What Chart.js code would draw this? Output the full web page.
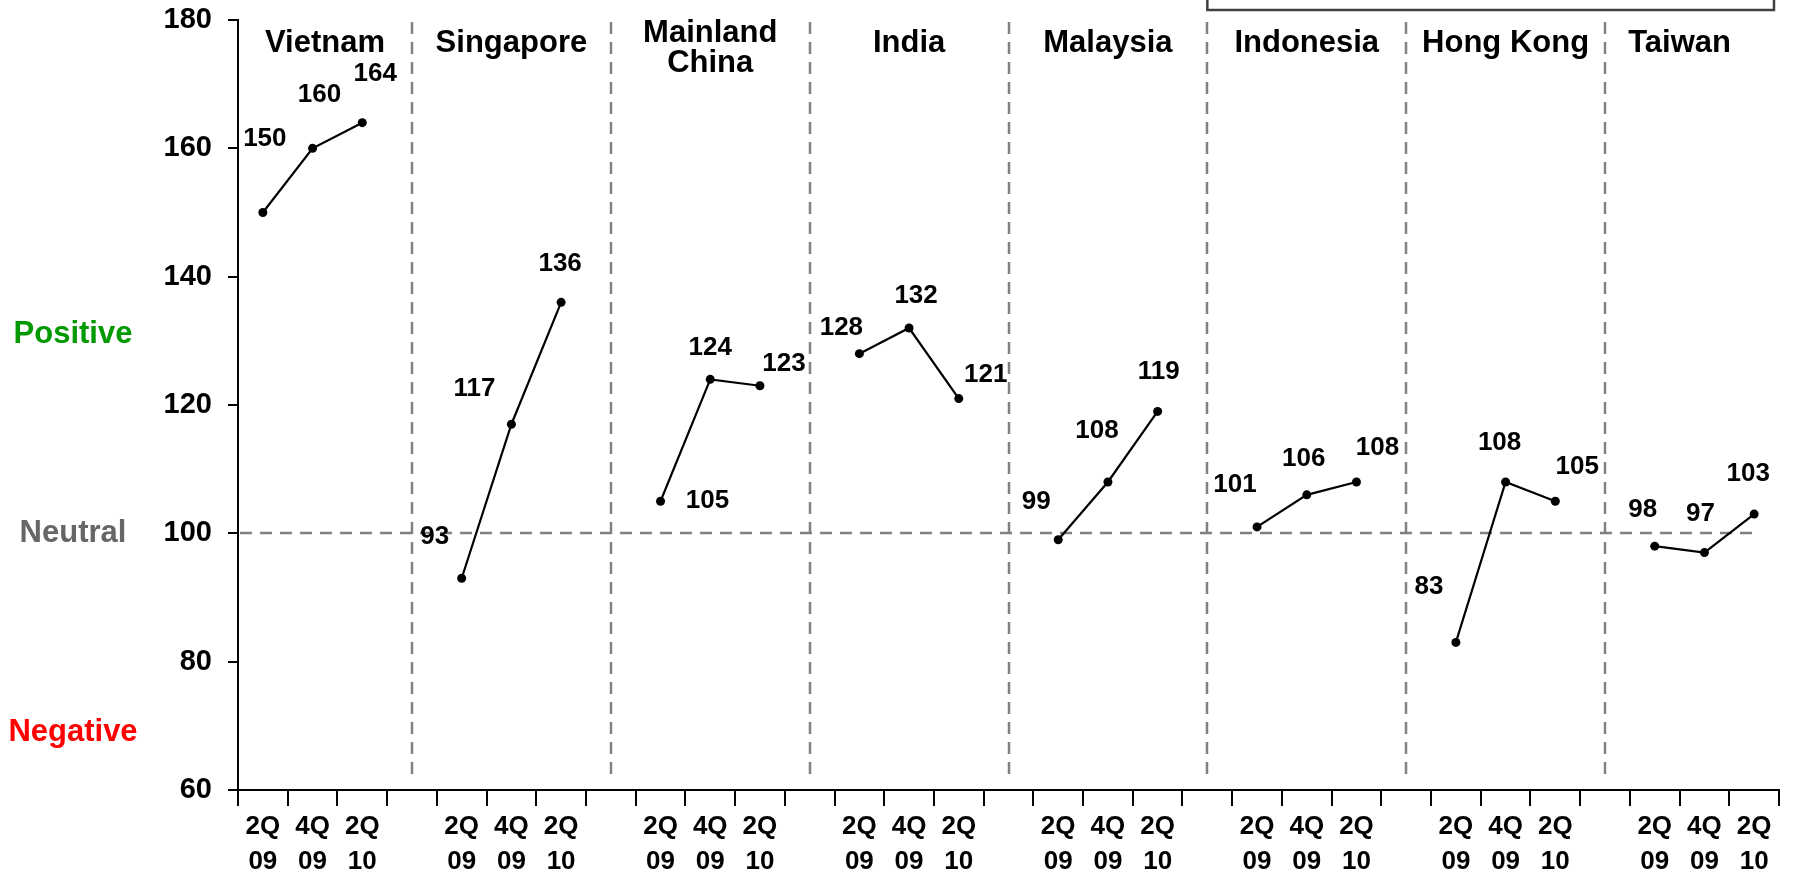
<!DOCTYPE html>
<html>
<head>
<meta charset="utf-8">
<title>Sentiment by market</title>
<script src="https://cdn.jsdelivr.net/npm/chart.js@4.4.1/dist/chart.umd.min.js"></script>
<style>
    html, body { margin: 0; padding: 0; background: #ffffff; }
    canvas { display: block; }
</style>
</head>
<body>
<canvas id="sentimentChart" width="1797" height="875"></canvas>
<script>
// Values
const countries = ['Vietnam', 'Singapore', ['Mainland', 'China'], 'India', 'Malaysia', 'Indonesia', 'Hong Kong', 'Taiwan'];
const periods = [['2Q', '09'], ['4Q', '09'], ['2Q', '10']];

const vietnam = [150, 160, 164];
const singapore = [93, 117, 136];
const mainlandChina = [105, 124, 123];
const india = [128, 132, 121];
const malaysia = [99, 108, 119];
const indonesia = [101, 106, 108];
const hongKong = [83, 108, 105];
const taiwan = [98, 97, 103];

const yMin = 60;
const yMax = 180;
const yStep = 20;
const neutralLevel = 100;
const sentimentBands = ['Positive', 'Neutral', 'Negative'];
const sentimentLevels = [131, 100, 69];

const FONT = "'Liberation Sans', Arial, Helvetica, sans-serif";
const series = [vietnam, singapore, mainlandChina, india, malaysia, indonesia, hongKong, taiwan];

// one empty slot between countries
const labels = [];
const gapSlots = [];
countries.forEach((c, i) => {
    if (i > 0) {
        gapSlots.push(labels.length);
        labels.push('');
    }
    periods.forEach((p) => labels.push(p));
});

const datasets = series.map((values, i) => {
    const data = new Array(labels.length).fill(null);
    values.forEach((v, j) => { data[i * (periods.length + 1) + j] = v; });
    return {
        label: Array.isArray(countries[i]) ? countries[i].join(' ') : countries[i],
        data: data,
        borderColor: '#000000',
        backgroundColor: '#000000',
        borderWidth: 2.2,
        pointRadius: 4.5,
        pointHoverRadius: 4.5,
        pointBackgroundColor: '#000000',
        pointBorderWidth: 0,
        tension: 0,
        spanGaps: false,
    };
});

// where each value label sits relative to its point (dx, dy in px)
const labelNudge = [
    [[2, -74], [7, -54], [13, -49]],
    [[-27, -41], [-37, -35], [-1, -39]],
    [[47, 0], [0, -32], [24, -22]],
    [[-18, -26], [7, -32], [27, -24]],
    [[-22, -38], [-11, -51], [1, -40]],
    [[-22, -42], [-3, -36], [21, -34]],
    [[-27, -56], [-6, -39], [22, -34]],
    [[-12, -36], [-4, -39], [-6, -40]],
];
const bandColors = ['#009900', '#666666', '#ff0000'];

const guidesPlugin = {
    id: 'guides',
    beforeDatasetsDraw(chart) {
        const { ctx, chartArea, scales } = chart;
        ctx.save();
        ctx.strokeStyle = '#808080';
        ctx.lineWidth = 2.5;
        ctx.setLineDash([12, 8]);

        // country separators
        gapSlots.forEach((slot) => {
            const x = Math.round(scales.x.getPixelForValue(slot));
            ctx.beginPath();
            ctx.moveTo(x, chartArea.top + 2);
            ctx.lineTo(x, chartArea.bottom - 12);
            ctx.stroke();
        });

        // neutral level
        const y = Math.round(scales.y.getPixelForValue(neutralLevel));
        ctx.beginPath();
        ctx.moveTo(chartArea.left + 2, y);
        ctx.lineTo(chartArea.right - 22, y);
        ctx.stroke();
        ctx.restore();
    },
    afterDatasetsDraw(chart) {
        const { ctx, chartArea, scales } = chart;
        ctx.save();
        ctx.fillStyle = '#000000';
        ctx.textAlign = 'center';
        ctx.textBaseline = 'middle';

        // value labels
        ctx.font = `bold 26px ${FONT}`;
        chart.data.datasets.forEach((ds, d) => {
            const meta = chart.getDatasetMeta(d);
            let j = 0;
            meta.data.forEach((pt, idx) => {
                const v = ds.data[idx];
                if (v === null) return;
                const [dx, dy] = labelNudge[d][j];
                ctx.fillText(String(v), pt.x + dx, pt.y + dy);
                j++;
            });
        });

        // country names, centred between separators
        ctx.font = `bold 31px ${FONT}`;
        const bounds = [chartArea.left]
            .concat(gapSlots.map((s) => scales.x.getPixelForValue(s)))
            .concat([scales.x.getPixelForValue(labels.length - 1)]);
        countries.forEach((name, i) => {
            const cx = (bounds[i] + bounds[i + 1]) / 2;
            if (Array.isArray(name)) {
                ctx.fillText(name[0], cx, chartArea.top + 13);
                ctx.fillText(name[1], cx, chartArea.top + 43);
            } else {
                ctx.fillText(name, cx, chartArea.top + 23);
            }
        });

        // sentiment band labels on the far left
        ctx.font = `bold 31px ${FONT}`;
        sentimentBands.forEach((txt, i) => {
            ctx.fillStyle = bandColors[i];
            ctx.fillText(txt, 73, scales.y.getPixelForValue(sentimentLevels[i]));
        });

        // legend frame cut off at the top edge
        ctx.strokeStyle = '#404040';
        ctx.lineWidth = 2.5;
        const boxLeft = scales.x.getPixelForValue(gapSlots[4]);
        ctx.strokeRect(boxLeft, -10, chartArea.right - 5 - boxLeft, 20);
        ctx.restore();
    },
};

new Chart(document.getElementById('sentimentChart'), {
    type: 'line',
    data: { labels: labels, datasets: datasets },
    options: {
        responsive: false,
        maintainAspectRatio: false,
        animation: false,
        layout: { padding: { top: 20, right: 18, left: 0, bottom: 0 } },
        plugins: {
            legend: { display: false },
            title: { display: false },
            tooltip: { enabled: false },
        },
        scales: {
            x: {
                type: 'category',
                offset: true,
                grid: {
                    offset: true,
                    drawOnChartArea: false,
                    drawTicks: true,
                    tickLength: 16,
                    color: '#000000',
                    lineWidth: 2,
                },
                border: { display: true, color: '#000000', width: 2 },
                ticks: {
                    autoSkip: false,
                    maxRotation: 0,
                    minRotation: 0,
                    padding: 3,
                    color: '#000000',
                    font: { family: FONT, size: 26, weight: 'bold', lineHeight: 1.35 },
                },
                afterFit(scale) { scale.height = 85; },
            },
            y: {
                min: yMin,
                max: yMax,
                grid: {
                    drawOnChartArea: false,
                    drawTicks: true,
                    tickLength: 10,
                    color: '#000000',
                    lineWidth: 2,
                },
                border: { display: true, color: '#000000', width: 2 },
                ticks: {
                    stepSize: yStep,
                    padding: 16,
                    color: '#000000',
                    font: { family: FONT, size: 29, weight: 'bold' },
                },
                afterFit(scale) {
                    scale.width = 238;
                    scale.paddingTop = 0;
                    scale.paddingBottom = 0;
                },
            },
        },
    },
    plugins: [guidesPlugin],
});
</script>
</body>
</html>
